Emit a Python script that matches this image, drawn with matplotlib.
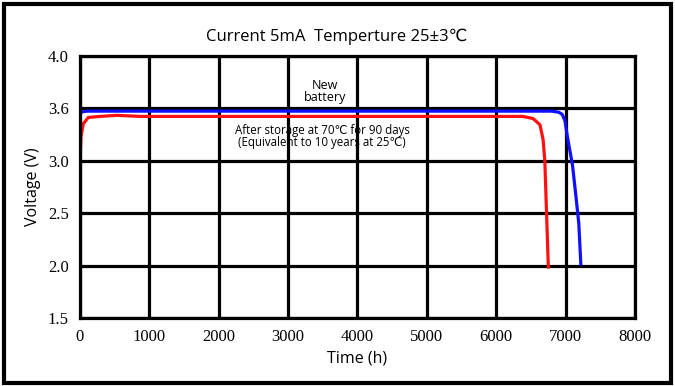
import matplotlib
matplotlib.use("Agg")
import matplotlib.pyplot as plt
from matplotlib.patches import Rectangle

# discharge curves (time in h, voltage as placed on the chart's y scale)
new_time = [0, 100, 500, 2000, 4000, 6000, 6800, 6900, 6950, 6990, 7020,
            7060, 7100, 7150, 7190, 7220]
new_volt = [3.46, 3.47, 3.47, 3.47, 3.47, 3.47, 3.47, 3.46, 3.44, 3.38, 3.25,
            3.10, 2.95, 2.65, 2.40, 2.00]

stored_time = [0, 15, 48, 120, 290, 530, 865, 2000, 4000, 6000, 6380, 6530,
               6630, 6675, 6700, 6725, 6750, 6755]
stored_volt = [3.00, 3.23, 3.35, 3.41, 3.42, 3.43, 3.42, 3.42, 3.42, 3.42,
               3.42, 3.40, 3.34, 3.20, 3.00, 2.50, 2.00, 1.97]

x_ticks = [0, 1000, 2000, 3000, 4000, 5000, 6000, 7000, 8000]
y_ticks = [1.5, 2.0, 2.5, 3.0, 3.5, 4.0]
y_tick_labels = ["1.5", "2.0", "2.5", "3.0", "3.6", "4.0"]

W, H = 675, 386
SANS = ["Open Sans", "DejaVu Sans"]
SERIF = "Liberation Serif"

fig = plt.figure(figsize=(W / 100, H / 100), dpi=100)
ax = fig.add_axes([80 / W, 1 - 318 / H, 555 / W, 262.5 / H])

ax.set_xlim(0, 8000)
ax.set_ylim(1.5, 4.0)
ax.set_xticks(x_ticks)
ax.set_xticklabels([str(t) for t in x_ticks], fontfamily=SERIF, fontsize=12)
ax.set_yticks(y_ticks)
ax.set_yticklabels(y_tick_labels, fontfamily=SERIF, fontsize=12)
ax.tick_params(length=0, pad=8)
ax.grid(True, color="black", linewidth=2.3)
ax.set_axisbelow(True)
for s in ax.spines.values():
    s.set_linewidth(2.3)

ax.plot(stored_time, stored_volt, color="#ff1010", linewidth=2.3,
        solid_capstyle="butt")
ax.plot(new_time, new_volt, color="#1010ff", linewidth=2.3,
        solid_capstyle="butt")

ax.set_xlabel("Time (h)", fontfamily=SANS, fontsize=11.5, labelpad=4)
ax.set_ylabel("Voltage (V)", fontfamily=SANS, fontsize=11.5, labelpad=5)

txt_bg = dict(facecolor="white", edgecolor="none", pad=0.5)
ax.text(3530, 3.71, "New", ha="center", va="center", fontfamily=SANS,
        fontsize=9, bbox=txt_bg)
ax.text(3530, 3.60, "battery", ha="center", va="center", fontfamily=SANS,
        fontsize=9, bbox=txt_bg)
ax.text(3490, 3.29, "After storage at 70℃ for 90 days", ha="center",
        va="center", fontfamily=SANS, fontsize=8.3)
ax.text(3490, 3.175, "(Equivalent to 10 years at 25℃)", ha="center",
        va="center", fontfamily=SANS, fontsize=8.3)

fig.text(337 / W, 1 - 37 / H, "Current 5mA  Temperture 25±3℃", ha="center",
         va="center", fontfamily=SANS, fontsize=12)

fig.patches.append(Rectangle((4 / W, 3 / H), 667 / W, 379 / H,
                             transform=fig.transFigure, fill=False,
                             edgecolor="black", linewidth=3))

fig.savefig("out.png", dpi=100)
